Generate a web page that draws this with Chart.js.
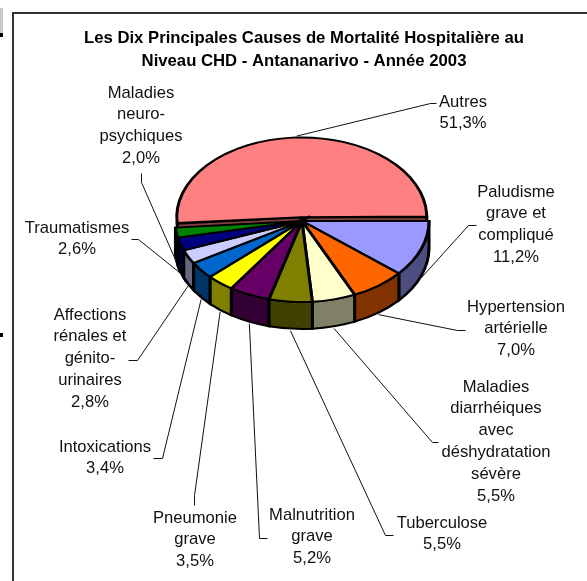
<!DOCTYPE html>
<html lang="fr">
<head>
<meta charset="utf-8">
<style>html,body{margin:0;padding:0;background:#fff}canvas{display:block}</style>
<script src="https://cdn.jsdelivr.net/npm/chart.js@4/dist/chart.umd.min.js"></script>
</head>
<body>
<canvas id="c" width="587" height="581"></canvas>
<script>
// --- data ---
const categories = ["Autres","Paludisme grave et compliqué","Hypertension artérielle","Maladies diarrhéiques avec déshydratation sévère","Tuberculose","Malnutrition grave","Pneumonie grave","Intoxications","Affections rénales et génito-urinaires","Traumatismes","Maladies neuro-psychiques"];
const values = [51.3,11.2,7.0,5.5,5.5,5.2,3.5,3.4,2.8,2.6,2.0];
const titleLines = ["Les Dix Principales Causes de Mortalité Hospitalière au","Niveau CHD - Antananarivo - Année 2003"];
const labelLines = [["Autres"],["Paludisme","grave et","compliqué"],["Hypertension","artérielle"],["Maladies","diarrhéiques","avec","déshydratation","sévère"],["Tuberculose"],["Malnutrition","grave"],["Pneumonie","grave"],["Intoxications"],["Affections","rénales et","génito-","urinaires"],["Traumatismes"],["Maladies","neuro-","psychiques"]];
// --- styles ---
const topColors = ["#FF8080","#9999FF","#FF6600","#FFFFCC","#808000","#660066","#FFFF00","#0066CC","#CCCCFF","#000080","#008000"];
const wallColors = ["#804040","#4D4D80","#803300","#808066","#404000","#330033","#808000","#003366","#666680","#000040","#004000"];
// --- layout: label centre x, first line y, line step; then leader elbow points from label to slice ---
const labelPos = [[463,102],[516,192],[516,307],[496,387],[442,523],[312,515],[195,518],[105,447],[90,315],[77,228],[141,93]];
const leaders = [[[436,103],[430,103]],[[476,225],[468,225]],[[465,330],[457,330]],[[438,442],[432,442]],[[393,535],[385,535]],[[267,538],[259,538]],[[194,505],[194,495]],[[153,458],[162,458]],[[128,360],[137,360]],[[131,239],[138,239]],[[141,173],[141,182]]];
const LINE_STEP = 21.8, CX = 302, CY = 221, R = 127, SQUASH = 0.638, DEPTH = 27, PULL = 6;

const pie3d = {
  id: 'pie3d',
  beforeDraw(chart) {
    const c = chart.ctx;
    c.save();
    c.fillStyle = '#fff'; c.fillRect(0,0,chart.width,chart.height);
    c.strokeStyle = '#333'; c.lineWidth = 2;
    c.strokeRect(13,13,chart.width+40,chart.height+40);
    c.fillStyle = '#c8c8c8'; c.fillRect(0,8,3,26);
    c.fillStyle = '#000'; c.fillRect(0,33,3,4); c.fillRect(0,333,3,4);
    c.restore();
  },
  beforeDatasetsDraw(chart) {
    const c = chart.ctx, meta = chart.getDatasetMeta(0), arcs = meta.data;
    arcs[0].outerRadius = R - 2 - PULL;
    const x = arcs[0].x, y = arcs[0].y, d = DEPTH / SQUASH;
    c.save();
    c.translate(CX, CY); c.scale(1, SQUASH); c.translate(-x, -y);
    c.lineJoin = 'miter'; c.strokeStyle = '#000'; c.lineWidth = 3;
    // cut faces of the pulled-out first slice
    const first = arcs[0], mid0 = (first.startAngle + first.endAngle) / 2;
    const ox = x + Math.cos(mid0) * PULL, oy = y + Math.sin(mid0) * PULL, r0 = R - 2;
    c.fillStyle = wallColors[0];
    [first.endAngle, first.startAngle].forEach(a => {
      c.beginPath();
      c.moveTo(ox, oy);
      c.lineTo(ox + Math.cos(a) * r0, oy + Math.sin(a) * r0);
      c.lineTo(ox + Math.cos(a) * r0, oy + Math.sin(a) * r0 + d);
      c.lineTo(ox, oy + d);
      c.closePath(); c.fill(); c.stroke();
    });
    // outer walls of the front slices
    arcs.forEach((arc, i) => {
      const a0 = Math.max(arc.startAngle, 0), a1 = Math.min(arc.endAngle, Math.PI);
      if (a1 <= a0) return;
      c.beginPath();
      c.arc(x, y, R, a0, a1);
      c.lineTo(x + Math.cos(a1) * R, y + Math.sin(a1) * R + d);
      c.arc(x, y + d, R, a1, a0, true);
      c.closePath();
      c.fillStyle = wallColors[i];
      c.fill(); c.stroke();
    });
  },
  afterDatasetsDraw(chart) {
    const c = chart.ctx, arcs = chart.getDatasetMeta(0).data;
    c.restore();
    // leader lines, starting on the slice they belong to
    c.save();
    c.strokeStyle = '#111'; c.lineWidth = 1;
    arcs.forEach((arc, i) => {
      const mid = (arc.startAngle + arc.endAngle) / 2;
      const sx = CX + Math.cos(mid) * R;
      const sy = CY + Math.sin(mid) * R * SQUASH + (i === 0 ? -4 : DEPTH + 2);
      const [p, q] = leaders[i];
      c.beginPath();
      c.moveTo(p[0] + .5, p[1] + .5); c.lineTo(q[0] + .5, q[1] + .5); c.lineTo(sx, sy);
      c.stroke();
    });
    // labels
    c.fillStyle = '#111';
    c.font = '16.6px "Liberation Sans", Arial, sans-serif';
    c.textAlign = 'center'; c.textBaseline = 'middle';
    arcs.forEach((arc, i) => {
      const lines = labelLines[i].concat(values[i].toFixed(1).replace('.', ',') + '%');
      lines.forEach((t, k) => c.fillText(t, labelPos[i][0], labelPos[i][1] + k * LINE_STEP));
    });
    c.restore();
  }
};

new Chart(document.getElementById('c'), {
  type: 'pie',
  data: {
    labels: categories,
    datasets: [{
      data: values,
      backgroundColor: topColors,
      borderColor: '#000',
      borderWidth: 3,
      borderJoinStyle: 'miter',
      radius: R,
      offset: values.map((v, i) => i === 0 ? PULL * 4 : 0),
      clip: false
    }]
  },
  options: {
    responsive: false,
    animation: false,
    rotation: -94.68,
    layout: { padding: { left: 21 } },
    events: [],
    plugins: {
      legend: { display: false },
      tooltip: { enabled: false },
      title: {
        display: true,
        text: titleLines,
        color: '#000',
        font: { family: '"Liberation Sans", Arial, sans-serif', size: 14.7 * 439 / 386, weight: 'bold', lineHeight: 1.39 },
        padding: { top: 27, bottom: 10 }
      }
    }
  },
  plugins: [pie3d]
});
</script>
</body>
</html>
